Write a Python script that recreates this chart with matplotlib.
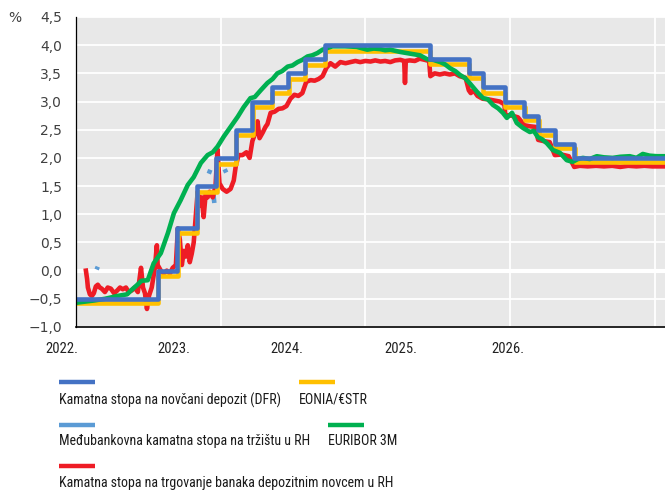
import numpy as np
import pandas as pd
import matplotlib
matplotlib.use('Agg')
import matplotlib.pyplot as plt
from matplotlib.lines import Line2D

# ---- data ----
# ECB deposit facility rate, step changes
dfr_dates = ['2022-01-01', '2022-07-27', '2022-09-14', '2022-11-02', '2022-12-21',
             '2023-02-08', '2023-03-22', '2023-05-10', '2023-06-21', '2023-08-02',
             '2023-09-20', '2024-06-12', '2024-09-18', '2024-10-23', '2024-12-18',
             '2025-02-05', '2025-03-12', '2025-04-23', '2025-06-11', '2026-01-23']
dfr_vals = [-0.50, 0.00, 0.75, 1.50, 2.00, 2.50, 3.00, 3.25, 3.50, 3.75,
            4.00, 3.75, 3.50, 3.25, 3.00, 2.75, 2.50, 2.25, 2.00, 2.00]

# EONIA / ESTR
estr_dates = ['2022-01-01', '2022-07-28', '2022-09-15', '2022-11-03', '2022-12-22',
              '2023-02-09', '2023-03-23', '2023-05-11', '2023-06-22', '2023-08-03',
              '2023-09-21', '2024-06-13', '2024-09-19', '2024-10-24', '2024-12-19',
              '2025-02-06', '2025-03-13', '2025-04-24', '2025-06-12', '2026-01-23']
estr_vals = [-0.57, -0.09, 0.66, 1.40, 1.90, 2.40, 2.90, 3.15, 3.40, 3.65,
             3.89, 3.66, 3.41, 3.16, 2.91, 2.67, 2.41, 2.17, 1.93, 1.93]

# Interbank market rate in Croatia (only a few observations)
ib_dates = ['2022-02-22', '2022-02-25', None,
            '2022-12-02', '2022-12-06', None,
            '2022-12-13', '2022-12-16', None,
            '2023-01-11', '2023-01-15']
ib_vals = [0.02, 0.07, None,
           1.72, 1.79, None,
           1.40, 1.20, None,
           1.80, 1.74]

# EURIBOR 3M
eur_dates = ['2022-01-01', '2022-02-15', '2022-03-15', '2022-04-15', '2022-05-10',
             '2022-05-20', '2022-06-05', '2022-06-15', '2022-07-01', '2022-07-16',
             '2022-08-03', '2022-08-21', '2022-09-05', '2022-09-22', '2022-10-10',
             '2022-10-25', '2022-11-12', '2022-11-29', '2022-12-12', '2022-12-24',
             '2023-01-09', '2023-01-26', '2023-02-13', '2023-02-28', '2023-03-17',
             '2023-03-28', '2023-04-12', '2023-04-29', '2023-05-12', '2023-05-24',
             '2023-06-05', '2023-06-19', '2023-07-01', '2023-07-14', '2023-07-26',
             '2023-08-08', '2023-08-20', '2023-09-02', '2023-09-15', '2023-10-10',
             '2023-11-10', '2023-12-10', '2024-01-06', '2024-01-22', '2024-02-08',
             '2024-02-20', '2024-03-04', '2024-03-29', '2024-04-23', '2024-05-18',
             '2024-06-05', '2024-06-20', '2024-07-08', '2024-07-20', '2024-08-02',
             '2024-08-15', '2024-08-27', '2024-09-08', '2024-09-21', '2024-10-09',
             '2024-10-24', '2024-11-05', '2024-11-18', '2024-12-01', '2024-12-13',
             '2024-12-23', '2025-01-05', '2025-01-17', '2025-02-02', '2025-02-19',
             '2025-03-01', '2025-03-11', '2025-03-22', '2025-04-03', '2025-04-18',
             '2025-05-06', '2025-05-23', '2025-06-07', '2025-06-20', '2025-07-03',
             '2025-07-20', '2025-08-07', '2025-08-25', '2025-09-16', '2025-10-05',
             '2025-10-29', '2025-11-15', '2025-12-01', '2025-12-18', '2026-01-05',
             '2026-01-23']
eur_vals = [-0.57, -0.53, -0.50, -0.45, -0.42,
            -0.35, -0.25, -0.18, -0.17, 0.13,
            0.31, 0.67, 1.02, 1.25, 1.52,
            1.66, 1.91, 2.05, 2.10, 2.20,
            2.38, 2.55, 2.73, 2.90, 3.06,
            3.08, 3.20, 3.33, 3.40, 3.50,
            3.54, 3.62, 3.64, 3.70, 3.74,
            3.80, 3.82, 3.86, 3.92, 3.98,
            3.98, 3.97, 3.92, 3.94, 3.93,
            3.91, 3.92, 3.88, 3.85, 3.82,
            3.75, 3.74, 3.70, 3.66, 3.59,
            3.54, 3.47, 3.42, 3.32, 3.17,
            3.06, 3.04, 2.94, 2.88, 2.80,
            2.71, 2.80, 2.62, 2.53, 2.46,
            2.48, 2.37, 2.33, 2.26, 2.14,
            2.09, 1.96, 1.93, 1.98, 2.00,
            1.98, 2.03, 2.01, 2.00, 2.02,
            2.03, 2.00, 2.07, 2.04, 2.03,
            2.03]

# Overnight interbank rate in Croatia
red_dates = ['2022-01-26', '2022-01-29', '2022-01-31', '2022-02-05', '2022-02-10',
             '2022-02-15', '2022-02-20', '2022-02-25', '2022-03-02', '2022-03-07',
             '2022-03-15', '2022-03-22', '2022-03-30', '2022-04-07', '2022-04-14',
             '2022-04-22', '2022-04-29', '2022-05-07', '2022-05-14', '2022-05-22',
             '2022-05-29', '2022-06-06', '2022-06-14', '2022-06-19', '2022-06-24',
             '2022-06-29', '2022-07-04', '2022-07-11', '2022-07-19', '2022-07-24',
             '2022-07-26', '2022-08-03', '2022-08-10', '2022-08-18', '2022-08-26',
             '2022-09-02', '2022-09-10', '2022-09-15', '2022-09-20', '2022-09-25',
             '2022-09-30', '2022-10-05', '2022-10-10', '2022-10-15', '2022-10-20',
             '2022-10-25', '2022-10-30', '2022-11-04', '2022-11-09', '2022-11-14',
             '2022-11-19', '2022-11-24', '2022-11-29', '2022-12-04', '2022-12-12',
             '2022-12-19', '2022-12-24', '2022-12-29', '2023-01-06', '2023-01-16',
             '2023-01-26', '2023-02-03', '2023-02-08', '2023-02-15', '2023-02-25',
             '2023-03-07', '2023-03-15', '2023-03-22', '2023-03-30', '2023-04-04',
             '2023-04-09', '2023-04-17', '2023-04-24', '2023-04-29', '2023-05-07',
             '2023-05-17', '2023-05-27', '2023-06-06', '2023-06-16', '2023-06-26',
             '2023-07-06', '2023-07-16', '2023-07-26', '2023-08-05', '2023-08-16',
             '2023-08-26', '2023-09-05', '2023-09-15', '2023-09-25', '2023-10-05',
             '2023-10-17', '2023-10-30', '2023-11-12', '2023-11-24', '2023-12-07',
             '2023-12-19', '2024-01-01', '2024-01-14', '2024-01-26', '2024-02-08',
             '2024-02-20', '2024-03-04', '2024-03-16', '2024-03-29', '2024-04-08',
             '2024-04-10', '2024-04-12', '2024-04-22', '2024-05-05', '2024-05-17',
             '2024-05-30', '2024-06-10', '2024-06-13', '2024-06-24', '2024-07-07',
             '2024-07-19', '2024-08-01', '2024-08-14', '2024-08-26', '2024-09-10',
             '2024-09-18', '2024-09-23', '2024-09-30', '2024-10-10', '2024-10-23',
             '2024-11-05', '2024-11-20', '2024-12-05', '2024-12-17', '2024-12-19',
             '2025-01-05', '2025-01-20', '2025-02-05', '2025-02-20', '2025-03-05',
             '2025-03-12', '2025-03-25', '2025-04-10', '2025-04-23', '2025-05-10',
             '2025-05-28', '2025-06-11', '2025-06-25', '2025-07-15', '2025-08-05',
             '2025-08-25', '2025-09-15', '2025-10-05', '2025-10-25', '2025-11-15',
             '2025-12-05', '2025-12-25', '2026-01-10', '2026-01-23']
red_vals = [0.00, -0.15, -0.30, -0.42, -0.45,
            -0.40, -0.28, -0.25, -0.30, -0.32,
            -0.38, -0.30, -0.32, -0.40, -0.36,
            -0.30, -0.33, -0.30, -0.38, -0.35,
            -0.30, -0.38, 0.05, -0.30, -0.40,
            -0.68, -0.45, -0.30, 0.05, 0.45,
            0.10, 0.00, -0.05, 0.00, -0.05,
            0.05, 0.10, 0.75, 0.55, 0.10,
            0.35, 0.25, 0.45, 0.15, 0.30,
            0.50, 0.95, 1.40, 1.15, 1.30,
            0.95, 1.35, 1.30, 1.40, 1.30,
            1.50, 2.15, 1.55, 1.45, 1.40,
            1.45, 1.60, 1.85, 2.05, 2.05,
            2.10, 2.00, 2.30, 2.45, 2.65,
            2.35, 2.45, 2.55, 2.60, 2.80,
            2.82, 2.87, 2.88, 2.92, 3.05,
            3.12, 3.10, 3.15, 3.35, 3.38,
            3.37, 3.40, 3.45, 3.60, 3.68,
            3.62, 3.70, 3.68, 3.70, 3.72,
            3.70, 3.72, 3.71, 3.73, 3.71,
            3.72, 3.70, 3.73, 3.74, 3.72,
            3.33, 3.72, 3.73, 3.72, 3.76,
            3.74, 3.72, 3.45, 3.50, 3.48,
            3.50, 3.48, 3.50, 3.45, 3.42,
            3.20, 3.15, 3.20, 3.10, 3.05,
            3.04, 3.02, 3.00, 2.95, 2.76,
            2.75, 2.72, 2.58, 2.56, 2.55,
            2.32, 2.30, 2.28, 2.05, 2.06,
            2.03, 1.84, 1.86, 1.85, 1.86,
            1.85, 1.86, 1.84, 1.86, 1.85,
            1.86, 1.85, 1.85, 1.85]

years = ['2022.', '2023.', '2024.', '2025.', '2026.']
year_label_pos = [-0.024, 0.166, 0.358, 0.552, 0.733]
grid_years = ['2022-01-01', '2023-01-01', '2024-01-01', '2025-01-01', '2026-01-01']

c_dfr = '#4472C4'
c_estr = '#FFC000'
c_ib = '#5B9BD5'
c_eur = '#00B050'
c_red = '#EE1C25'

def to_dt(lst):
    return pd.to_datetime([d if d is not None else pd.NaT for d in lst])

def to_arr(lst):
    return np.array([np.nan if v is None else v for v in lst], dtype=float)

plt.rcParams['font.family'] = ['DejaVu Sans']
narrow = ['Roboto Condensed', 'Fira Sans Condensed', 'Barlow Semi Condensed', 'DejaVu Sans']

fig = plt.figure(figsize=(6.65, 4.93), dpi=100)
ax = fig.add_axes([76/665, 1 - 327/493, 1 - 76/665, 310/493])
ax.set_facecolor('#e8e8e8')

lw = 3.3
ax.plot(to_dt(ib_dates), to_arr(ib_vals), color=c_ib, lw=lw, zorder=3, solid_capstyle='butt')
ax.plot(to_dt(red_dates), red_vals, color=c_red, lw=lw, zorder=4)
ax.plot(to_dt(estr_dates), estr_vals, color=c_estr, lw=lw, drawstyle='steps-post', zorder=5)
ax.plot(to_dt(eur_dates), eur_vals, color=c_eur, lw=lw, zorder=6)
ax.plot(to_dt(dfr_dates), dfr_vals, color=c_dfr, lw=lw, drawstyle='steps-post', zorder=7)

# axes ranges
ax.set_xlim(pd.Timestamp('2022-01-01'), pd.Timestamp('2026-01-26'))
ax.set_ylim(-1.0, 4.5)
yt = np.arange(-1.0, 4.51, 0.5)
ax.set_yticks(yt)
ax.set_yticklabels([('%.1f' % v).replace('.', ',').replace('-', '\u2212') for v in yt],
                   fontsize=10, color='#404040')
ax.tick_params(axis='y', length=0, pad=10)
ax.set_xticks(pd.to_datetime(grid_years))
ax.set_xticklabels([])
ax.tick_params(axis='x', length=0)

# grid
for v in yt:
    ax.axhline(v, color='white', lw=3 if v == 0 else 1.3, zorder=1)
for d in grid_years:
    ax.axvline(pd.Timestamp(d), color='white', lw=1.3, zorder=1)

for s in ['top', 'right']:
    ax.spines[s].set_visible(False)
ax.spines['left'].set_color('black')
ax.spines['left'].set_linewidth(0.9)
ax.spines['bottom'].set_color('black')
ax.spines['bottom'].set_linewidth(1.2)
ax.spines['left'].set_zorder(10)
ax.spines['bottom'].set_zorder(10)

# year labels (offset from grid as in the original)
for lab, p in zip(years, year_label_pos):
    ax.text(p, -0.07, lab, transform=ax.transAxes, ha='center', va='center',
            fontsize=10.5, family=narrow, color='#222222')

fig.text(15/665, 1 - 18/493, '%', ha='center', va='center', fontsize=10, color='#404040')

# legend drawn by hand
legend_items = [
    (c_dfr, 'Kamatna stopa na novčani depozit (DFR)', 59, 382, 400),
    (c_estr, 'EONIA/€STR', 299, 382, 400),
    (c_ib, 'Međubankovna kamatna stopa na tržištu u RH', 59, 425, 441),
    (c_eur, 'EURIBOR 3M', 328, 425, 441),
    (c_red, 'Kamatna stopa na trgovanje banaka depozitnim novcem u RH', 59, 466, 483),
]
for col, txt, x0, yl, yt_ in legend_items:
    fig.add_artist(Line2D([x0/665, (x0+36)/665], [1 - yl/493, 1 - yl/493],
                          color=col, lw=3.2, solid_capstyle='butt'))
    fig.text(x0/665, 1 - yt_/493, txt, ha='left', va='center', fontsize=10,
             family=narrow, color='#1a1a1a')

fig.savefig('out.png', dpi=100)
